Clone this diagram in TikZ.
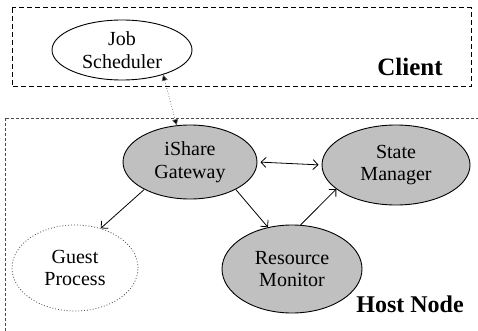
\documentclass[tikz,border=0pt]{standalone}
\usepackage{fontspec}
\setmainfont{Liberation Serif}
\usetikzlibrary{shapes.geometric,arrows.meta}
\definecolor{procgray}{HTML}{C0C0C0}
\tikzset{
  proc/.style={ellipse, draw=black, line width=0.9pt, inner sep=0pt, align=center,
    font=\fontsize{20}{22.5}\selectfont},
  active/.style={proc, fill=procgray},
  guest/.style={proc, draw=black!70, dotted, line width=0.8pt},
  link/.style={draw=black, line width=0.8pt, -{Straight Barb[length=5pt,width=10pt]}},
  both/.style={draw=black, line width=0.8pt, {Straight Barb[length=5pt,width=10pt]}-{Straight Barb[length=5pt,width=10pt]}},
  rpc/.style={draw=black!60, dotted, line width=0.7pt, {Triangle[length=6pt,width=6pt,fill=black]}-{Triangle[length=6pt,width=6pt,fill=black]}},
  regionlabel/.style={font=\bfseries\fontsize{24}{26}\selectfont, inner sep=0pt},
}
\begin{document}
\begin{tikzpicture}[x=1pt,y=-1pt]
\useasboundingbox (0,0) rectangle (478,331);
% regions
\draw[black, line width=1pt, dash pattern=on 5pt off 3pt] (12,8) rectangle (471,87);
\draw[black!70, line width=0.9pt, dash pattern=on 3pt off 2pt] (5,118) rectangle (490,345);
\node[regionlabel, font=\bfseries\fontsize{25}{27}\selectfont] (client) at (410,67) {Client};
\node[regionlabel, font=\bfseries\fontsize{24}{26}\selectfont] (host) at (410,304) {Host Node};
% processes
\node[proc, minimum width=140pt, minimum height=60pt] (js) at (122,50) {Job\\Scheduler};
\node[active, minimum width=134pt, minimum height=74pt] (gw) at (190,162) {iShare\\Gateway};
\node[active, minimum width=148pt, minimum height=80pt] (sm) at (396,165) {State\\Manager};
\node[active, minimum width=140pt, minimum height=88pt] (rm) at (292,269) {Resource\\Monitor};
\node[guest, minimum width=126pt, minimum height=86pt] (gp) at (75,268) {Guest\\Process};
% connectors
\draw[rpc] (js.-31) -- (gw.110);
\draw[both, shorten <=3pt, shorten >=3pt] (gw.east) -- (sm.west);
\draw[link] (gw.-149) -- (gp.57);
\draw[link] (gw.-31) -- (rm.120);
\draw[link] (rm.79) -- (sm.-158);
\end{tikzpicture}
\end{document}
